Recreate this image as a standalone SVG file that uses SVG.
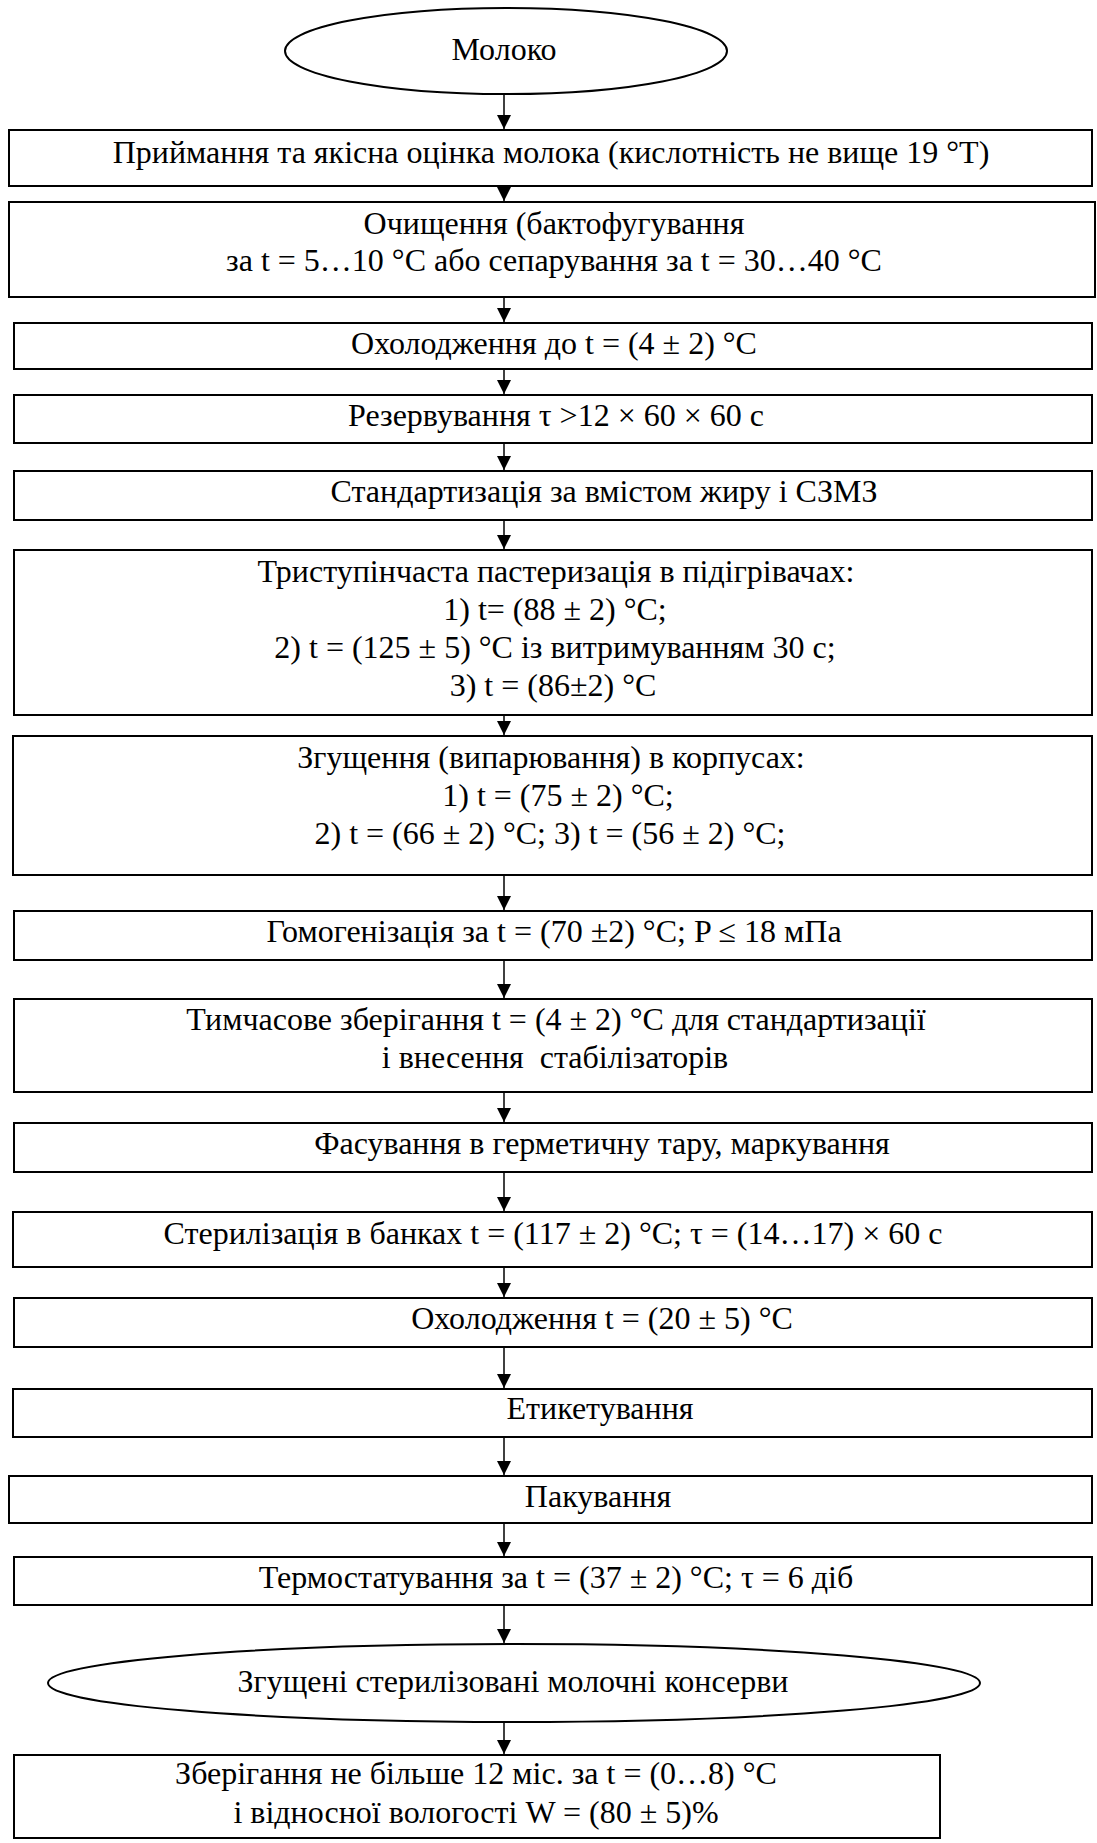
<svg xmlns="http://www.w3.org/2000/svg" width="1097" height="1843" viewBox="0 0 1097 1843">
<defs>
<style>
.b{fill:#fff;stroke:#000;stroke-width:2}
.t{font-family:"Liberation Serif","Times New Roman",serif;font-size:32px;fill:#000;text-anchor:middle}
.c{stroke:#000;stroke-width:1.5;fill:none}
</style>
<marker id="ah" markerWidth="14" markerHeight="14" refX="14" refY="7" orient="auto" markerUnits="userSpaceOnUse">
<path d="M0,0 L14,7 L0,14 Z" fill="#000"/>
</marker>
</defs>
<rect width="1097" height="1843" fill="#fff"/>
<g id="connectors">
<line class="c" x1="504" y1="94" x2="504" y2="129" marker-end="url(#ah)"/>
<line class="c" x1="504" y1="187" x2="504" y2="201" marker-end="url(#ah)"/>
<line class="c" x1="504" y1="298" x2="504" y2="322" marker-end="url(#ah)"/>
<line class="c" x1="504" y1="370" x2="504" y2="394" marker-end="url(#ah)"/>
<line class="c" x1="504" y1="444" x2="504" y2="470" marker-end="url(#ah)"/>
<line class="c" x1="504" y1="521" x2="504" y2="549" marker-end="url(#ah)"/>
<line class="c" x1="504" y1="716" x2="504" y2="735" marker-end="url(#ah)"/>
<line class="c" x1="504" y1="876" x2="504" y2="910" marker-end="url(#ah)"/>
<line class="c" x1="504" y1="961" x2="504" y2="998" marker-end="url(#ah)"/>
<line class="c" x1="504" y1="1093" x2="504" y2="1122" marker-end="url(#ah)"/>
<line class="c" x1="504" y1="1173" x2="504" y2="1211" marker-end="url(#ah)"/>
<line class="c" x1="504" y1="1268" x2="504" y2="1297" marker-end="url(#ah)"/>
<line class="c" x1="504" y1="1348" x2="504" y2="1388" marker-end="url(#ah)"/>
<line class="c" x1="504" y1="1438" x2="504" y2="1475" marker-end="url(#ah)"/>
<line class="c" x1="504" y1="1524" x2="504" y2="1556" marker-end="url(#ah)"/>
<line class="c" x1="504" y1="1606" x2="504" y2="1643" marker-end="url(#ah)"/>
<line class="c" x1="504" y1="1723" x2="504" y2="1754" marker-end="url(#ah)"/>
</g>
<g id="n0"><ellipse class="b" cx="506" cy="51" rx="221" ry="43"/><text class="t" x="504" y="60">Молоко</text></g>
<g id="n1"><rect class="b" x="9" y="130" width="1083" height="56"/><text class="t" x="551" y="163">Приймання та якісна оцінка молока (кислотність не вище 19 °T)</text></g>
<g id="n2"><rect class="b" x="9" y="202" width="1086" height="95"/><text class="t" x="554" y="234">Очищення (бактофугування</text><text class="t" x="554" y="271">за t = 5…10 °C або сепарування за t = 30…40 °C</text></g>
<g id="n3"><rect class="b" x="14" y="323" width="1078" height="46"/><text class="t" x="554" y="354">Охолодження до t = (4 ± 2) °C</text></g>
<g id="n4"><rect class="b" x="14" y="395" width="1078" height="48"/><text class="t" x="556" y="426">Резервування τ &gt;12 × 60 × 60 с</text></g>
<g id="n5"><rect class="b" x="14" y="471" width="1078" height="49"/><text class="t" x="604" y="502">Стандартизація за вмістом жиру і СЗМЗ</text></g>
<g id="n6"><rect class="b" x="14" y="550" width="1078" height="165"/><text class="t" x="556" y="582">Триступінчаста пастеризація в підігрівачах:</text><text class="t" x="555" y="620">1) t= (88 ± 2) °C;</text><text class="t" x="555" y="658">2) t = (125 ± 5) °C із витримуванням 30 с;</text><text class="t" x="553" y="696">3) t = (86±2) °C</text></g>
<g id="n7"><rect class="b" x="13" y="736" width="1079" height="139"/><text class="t" x="551" y="768">Згущення (випарювання) в корпусах:</text><text class="t" x="558" y="806">1) t = (75 ± 2) °C;</text><text class="t" x="550" y="844">2) t = (66 ± 2) °C; 3) t = (56 ± 2) °C;</text></g>
<g id="n8"><rect class="b" x="14" y="911" width="1078" height="49"/><text class="t" x="554" y="942">Гомогенізація за t = (70 ±2) °C; P ≤ 18 мПа</text></g>
<g id="n9"><rect class="b" x="14" y="999" width="1078" height="93"/><text class="t" x="556" y="1030">Тимчасове зберігання t = (4 ± 2) °C для стандартизації</text><text class="t" x="555" y="1068" xml:space="preserve">і внесення  стабілізаторів</text></g>
<g id="n10"><rect class="b" x="14" y="1123" width="1078" height="49"/><text class="t" x="602" y="1154">Фасування в герметичну тару, маркування</text></g>
<g id="n11"><rect class="b" x="13" y="1212" width="1079" height="55"/><text class="t" x="553" y="1244">Стерилізація в банках t = (117 ± 2) °C; τ = (14…17) × 60 с</text></g>
<g id="n12"><rect class="b" x="14" y="1298" width="1078" height="49"/><text class="t" x="602" y="1329">Охолодження t = (20 ± 5) °C</text></g>
<g id="n13"><rect class="b" x="13" y="1389" width="1079" height="48"/><text class="t" x="600" y="1419">Етикетування</text></g>
<g id="n14"><rect class="b" x="9" y="1476" width="1083" height="47"/><text class="t" x="598" y="1507">Пакування</text></g>
<g id="n15"><rect class="b" x="14" y="1557" width="1078" height="48"/><text class="t" x="556" y="1588">Термостатування за t = (37 ± 2) °C; τ = 6 діб</text></g>
<g id="n16"><ellipse class="b" cx="514" cy="1683" rx="466" ry="39"/><text class="t" x="513" y="1692">Згущені стерилізовані молочні консерви</text></g>
<g id="n17"><rect class="b" x="14" y="1755" width="926" height="83"/><text class="t" x="476" y="1784">Зберігання не більше 12 міс. за t = (0…8) °C</text><text class="t" x="476" y="1823">і відносної вологості W = (80 ± 5)%</text></g>
</svg>
